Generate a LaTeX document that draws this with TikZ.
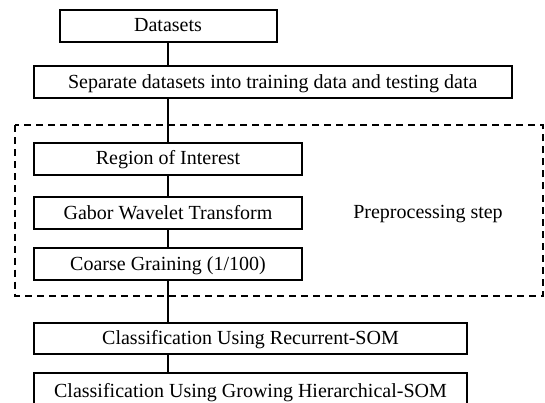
\documentclass[tikz,border=0pt]{standalone}
\usepackage{fontspec}
\setmainfont{Liberation Serif}
\begin{document}
\begin{tikzpicture}[x=1pt,y=-1pt,
    stepbox/.style={draw,line width=2pt,inner sep=0pt,minimum height=32pt,
      text height=15pt,text depth=3pt,font=\fontsize{20}{24}\selectfont},
    link/.style={line width=2.4pt}]
    \useasboundingbox (0,0) rectangle (545,403);
    % preprocessing frame
    \draw[line width=2pt,dash pattern=on 7pt off 5pt] (15,125.5) rectangle (543,295.5);
    \node[font=\fontsize{20}{24}\selectfont] (prep) at (428,214) {Preprocessing step};
    % steps
    \node[stepbox,minimum width=217pt]   (data) at (168,25.75)   {Datasets};
    \node[stepbox,minimum width=477.5pt] (sep)  at (272.75,82.5) {Separate datasets into training data and testing data};
    \node[stepbox,minimum width=268pt]   (roi)  at (168,159)     {Region of Interest};
    \node[stepbox,minimum width=268pt]   (gwt)  at (168,213)     {Gabor Wavelet Transform};
    \node[stepbox,minimum width=268pt]   (cg)   at (168,264)     {Coarse Graining (1/100)};
    \node[stepbox,minimum width=433pt,minimum height=31pt] (rsom) at (250.5,338.5) {Classification Using Recurrent-SOM};
    \node[stepbox,minimum width=433pt,minimum height=36pt] (gsom) at (250.5,391)   {Classification Using Growing Hierarchical-SOM};
    % connectors
    \draw[link] (data.south) -- (data.south |- sep.north);
    \draw[link] (sep.south -| roi.north) -- (roi.north);
    \draw[link] (roi.south) -- (gwt.north);
    \draw[link] (gwt.south) -- (cg.north);
    \draw[link] (cg.south) -- (cg.south |- rsom.north);
    \draw[link] (rsom.south -| cg.south) -- (gsom.north -| cg.south);
  \end{tikzpicture}
\end{document}
